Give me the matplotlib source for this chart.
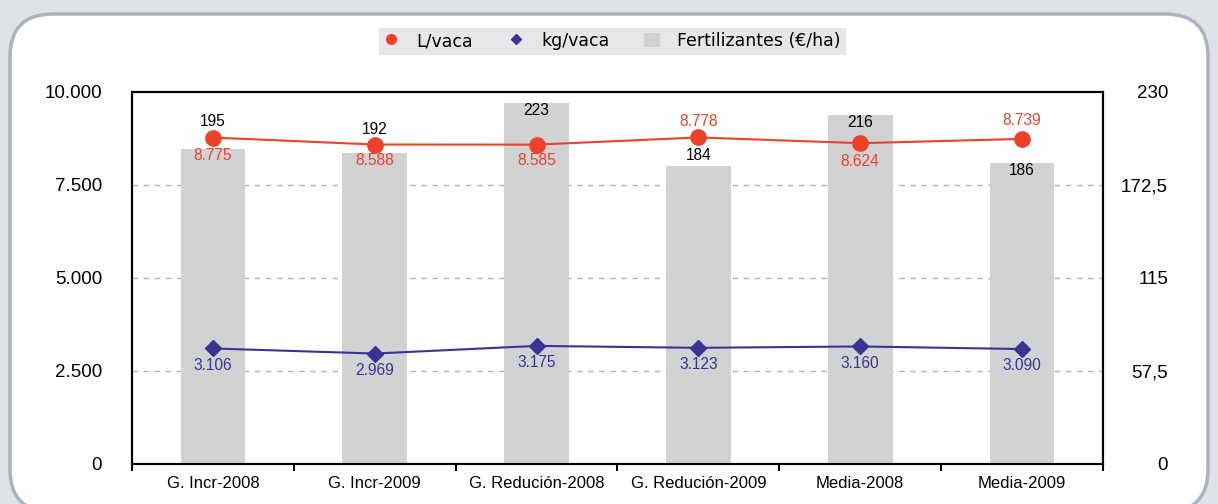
import matplotlib.pyplot as plt
import numpy as np
from matplotlib.patches import FancyBboxPatch
from matplotlib.lines import Line2D
from matplotlib.patches import Patch

# Data
categories = ["G. Incr-2008", "G. Incr-2009", "G. Redución-2008",
              "G. Redución-2009", "Media-2008", "Media-2009"]
litros_vaca = [8775, 8588, 8585, 8778, 8624, 8739]
kg_vaca = [3106, 2969, 3175, 3123, 3160, 3090]
fertilizantes = [195, 192, 223, 184, 216, 186]

left_ticks = [0, 2500, 5000, 7500, 10000]
left_labels = ["0", "2.500", "5.000", "7.500", "10.000"]
right_ticks = [0, 57.5, 115, 172.5, 230]
right_labels = ["0", "57,5", "115", "172,5", "230"]

# label offsets in pixels (positive = down)
fert_off = [-27, -24, 7, -11, 8, 7]
lit_off = [18, 16, 16, -16, 18, -18]
kg_off = [17, 17, 17, 17, 17, 16]

red = "#ee4129"
blue = "#3a3394"
bar_col = "#d1d2d4"

plt.rcParams["font.family"] = ["Liberation Sans", "DejaVu Sans"]

W, H = 1218, 504
fig = plt.figure(figsize=(W / 100, H / 100), dpi=100)
fig.patch.set_facecolor("#dfe3e7")

# rounded frame
frame = FancyBboxPatch((10 / W, -8 / H), (1208 - 10) / W, (H - 14 + 8) / H,
                       boxstyle="round,pad=0,rounding_size=0.035",
                       transform=fig.transFigure, facecolor="white",
                       edgecolor="#a9b4bf", linewidth=2.5, zorder=-5,
                       mutation_aspect=W / H)
fig.patches.append(frame)

ax = fig.add_axes([132 / W, 1 - 464 / H, (1103 - 132) / W, (464 - 92) / H])
ax.set_facecolor("none")
ax2 = ax.twinx()

x = np.arange(len(categories))

# bars on secondary axis
ax2.bar(x, fertilizantes, width=0.4, color=bar_col, zorder=2)
ax2.set_ylim(0, 230)
ax2.set_yticks(right_ticks)
ax2.set_yticklabels(right_labels)
ax2.tick_params(axis="y", length=0, pad=65 * 0.72, labelsize=13.5)
for t in ax2.get_yticklabels():
    t.set_horizontalalignment("right")

# gridlines (behind bars)
for yv in left_ticks[1:-1]:
    ax2.axhline(yv * 230 / 10000, color="#b3b3b3", linestyle=(0, (4, 4)),
                linewidth=1, zorder=1)

ax.set_zorder(ax2.get_zorder() + 1)
ax.plot(x, litros_vaca, color=red, marker="o", markersize=11, linewidth=1.5,
        zorder=3)
ax.plot(x, kg_vaca, color=blue, marker="D", markersize=8, linewidth=1.5,
        zorder=3)
ax.set_ylim(0, 10000)
ax.set_xlim(-0.5, len(categories) - 0.5)
ax.set_yticks(left_ticks)
ax.set_yticklabels(left_labels)
ax.tick_params(axis="y", length=0, pad=30 * 0.72, labelsize=13.5)

ax.set_xticks(np.arange(len(categories) + 1) - 0.5, minor=False)
ax.set_xticklabels([])
ax.set_xticks(x, minor=True)
ax.set_xticklabels(categories, minor=True)
ax.tick_params(axis="x", which="major", direction="out", length=5, width=1.5)
ax.tick_params(axis="x", which="minor", length=0, pad=9, labelsize=12)

for a in (ax, ax2):
    for s in a.spines.values():
        s.set_linewidth(1.5)
        s.set_color("black")

def fmt(v):
    return f"{v:,}".replace(",", ".")

for i in range(len(categories)):
    ax2.annotate(str(fertilizantes[i]), (x[i], fertilizantes[i]),
                 xytext=(0, -fert_off[i] * 0.72), textcoords="offset points",
                 ha="center", va="center", fontsize=11.2, color="black", zorder=5)
    ax.annotate(fmt(litros_vaca[i]), (x[i], litros_vaca[i]),
                xytext=(0, -lit_off[i] * 0.72), textcoords="offset points",
                ha="center", va="center", fontsize=11.2, color=red)
    ax.annotate(fmt(kg_vaca[i]), (x[i], kg_vaca[i]),
                xytext=(0, -kg_off[i] * 0.72), textcoords="offset points",
                ha="center", va="center", fontsize=11.2, color=blue)

# legend
handles = [
    Line2D([], [], color=red, marker="o", linestyle="none", markersize=7),
    Line2D([], [], color=blue, marker="D", linestyle="none", markersize=5),
    Patch(facecolor=bar_col, edgecolor="none"),
]
labels = ["L/vaca", "kg/vaca", "Fertilizantes (€/ha)"]
leg = fig.legend(handles, labels, loc="center", ncol=3,
                 bbox_to_anchor=(612 / W, 1 - 41 / H), frameon=True,
                 fancybox=False, facecolor="#e6e7e8", edgecolor="#e6e7e8",
                 framealpha=1, prop={"family": "DejaVu Sans", "size": 12.5},
                 handlelength=0.9, handleheight=0.9, handletextpad=1.0,
                 columnspacing=2.0, borderpad=0.25, borderaxespad=0)
leg.get_frame().set_boxstyle("square", pad=0)

fig.savefig("out.png", dpi=100, facecolor=fig.get_facecolor())
